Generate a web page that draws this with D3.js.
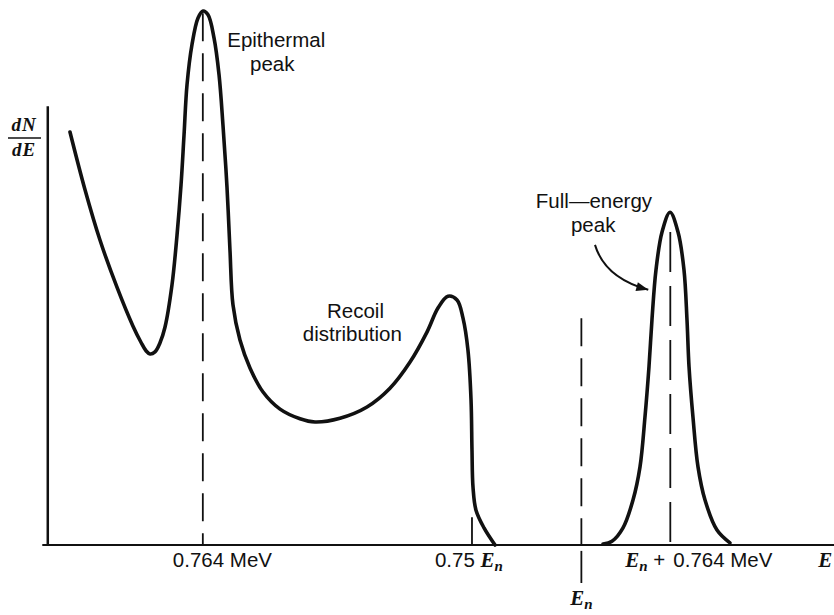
<!DOCTYPE html>
<html>
<head>
<meta charset="utf-8">
<script src="https://cdn.jsdelivr.net/npm/d3@7"></script>
<style>
  body { margin: 0; background: #fff; }
  svg text { font-family: "Liberation Sans", Arial, sans-serif; fill: #111; }
  .ital { font-family: "Liberation Serif", "Times New Roman", serif; font-style: italic; font-weight: bold; }
</style>
</head>
<body>
<div id="chart"></div>
<script>
// spectrum (arbitrary energy units 0-100, counts 0-100)
const lowEnergyE = [2.92, 4.83, 6.73, 8.89, 10.93, 11.94, 12.58, 13.09, 13.72, 14.36, 14.99, 15.88, 16.52, 17.03,
  17.41, 17.79, 18.42, 19.19, 19.82, 20.46, 21.22, 21.86, 22.36, 22.87, 23.25, 23.63, 24.52, 25.79, 27.45,
  29.61, 32.15, 34.05, 37.23, 40.66, 43.58, 46.13, 48.28, 49.68, 50.95, 52.1, 52.86, 53.49, 53.88, 54.0,
  54.13, 54.51, 55.53, 56.93];
const lowEnergyN = [77.2, 66.4, 57.0, 48.2, 40.9, 37.9, 36.3, 35.7, 36.1, 37.8, 40.7, 48.6, 57.9, 67.3,
  76.6, 86.0, 93.5, 98.5, 99.8, 99.1, 94.8, 87.9, 78.5, 66.9, 55.1, 44.9, 38.3, 33.1, 28.6,
  25.4, 23.6, 23.0, 23.7, 25.8, 29.3, 34.2, 39.8, 44.3, 46.5, 45.8, 42.4, 36.4, 27.1, 17.8,
  10.8, 6.5, 3.2, 0];
const fullPeakE = [70.65, 71.79, 73.19, 74.46, 75.35, 75.98, 76.49, 76.87, 77.38, 78.15, 79.17, 80.18, 80.94,
  81.32, 81.58, 82.08, 82.72, 83.61, 85.13, 86.78];
const fullPeakN = [0.2, 0.7, 3.2, 8.4, 14.6, 23.9, 33.3, 42.1, 51.4, 58.5, 62.2, 58.5, 51.4,
  42.1, 33.3, 23.9, 14.6, 8.4, 2.8, 0.4];

// marker lines: position, height reached, kind
const markerE = [19.8, 54.0, 67.9, 79.2];
const markerTop = [99.4, 5.2, 42.4, 58.5];
const markerKind = ["dash", "solid", "dash", "dashLong"];

const W = 834, H = 615;
const svg = d3.select("#chart").append("svg")
  .attr("width", W).attr("height", H);

const x = d3.scaleLinear().domain([0, 100]).range([47, 834]);
const y = d3.scaleLinear().domain([0, 100]).range([545, 10]);

// axes
svg.append("line")
  .attr("x1", x(-0.6)).attr("x2", x(100))
  .attr("y1", y(0)).attr("y2", y(0))
  .attr("stroke", "#111").attr("stroke-width", 2);
svg.append("line")
  .attr("x1", x(0.1)).attr("x2", x(0.1))
  .attr("y1", y(0)).attr("y2", y(82))
  .attr("stroke", "#111").attr("stroke-width", 2.5);

// marker lines
markerE.forEach((e, i) => {
  const k = markerKind[i];
  svg.append("line")
    .attr("x1", x(e)).attr("x2", x(e))
    .attr("y1", y(markerTop[i])).attr("y2", y(0))
    .attr("stroke", "#111").attr("stroke-width", 1.8)
    .attr("stroke-dasharray", k === "solid" ? null : (k === "dashLong" ? "40,14" : "28,12"));
});
// En tick below axis
svg.append("line")
  .attr("x1", x(markerE[2])).attr("x2", x(markerE[2]))
  .attr("y1", y(-1.1)).attr("y2", y(-7.1))
  .attr("stroke", "#111").attr("stroke-width", 1.8);

// curves
const line = d3.line()
  .x(d => x(d[0])).y(d => y(d[1]))
  .curve(d3.curveCatmullRom.alpha(0.5));

svg.append("path")
  .datum(d3.zip(lowEnergyE, lowEnergyN))
  .attr("d", line)
  .attr("fill", "none").attr("stroke", "#111")
  .attr("stroke-width", 3.6).attr("stroke-linecap", "round");

svg.append("path")
  .datum(d3.zip(fullPeakE, fullPeakN))
  .attr("d", line)
  .attr("fill", "none").attr("stroke", "#111")
  .attr("stroke-width", 3.6).attr("stroke-linecap", "round");

// annotations
const fs = 20.5;
function label(txt, px, py, anchor) {
  return svg.append("text").attr("x", px).attr("y", py)
    .attr("font-size", fs).attr("text-anchor", anchor || "start").text(txt);
}
label("Epithermal", x(22.9), y(93.0));
label("peak", x(25.8), y(88.6));
label("Recoil", x(39.2), y(42.5), "middle");
label("distribution", x(38.8), y(38.1), "middle");
label("Full\u2014energy", x(69.5), y(63.0), "middle");
label("peak", x(69.4), y(58.5), "middle");

// arrow to full-energy peak
const a0 = [x(69.63), y(56.1)], ac = [x(70.9), y(49.9)], a1 = [x(76.4), y(47.7)];
svg.append("path")
  .attr("d", `M${a0[0]},${a0[1]} Q${ac[0]},${ac[1]} ${a1[0]},${a1[1]}`)
  .attr("fill", "none").attr("stroke", "#111").attr("stroke-width", 2);
const ang = Math.atan2(a1[1] - ac[1], a1[0] - ac[0]);
const hl = 12, hw = 4.5;
const hp = [
  [a1[0], a1[1]],
  [a1[0] - hl * Math.cos(ang) + hw * Math.sin(ang), a1[1] - hl * Math.sin(ang) - hw * Math.cos(ang)],
  [a1[0] - hl * Math.cos(ang) - hw * Math.sin(ang), a1[1] - hl * Math.sin(ang) + hw * Math.cos(ang)]
];
svg.append("path").attr("d", "M" + hp.join("L") + "Z").attr("fill", "#111");

// axis labels
const base = y(0) + 22;
label("0.764 MeV", x(markerE[0]) - 30, base);

const t75 = svg.append("text").attr("x", x(markerE[1]) - 37).attr("y", base).attr("font-size", fs);
t75.append("tspan").text("0.75 ");
t75.append("tspan").attr("class", "ital").attr("font-size", 21).text("E");
t75.append("tspan").attr("class", "ital").attr("font-size", 15).attr("dy", 4).text("n");

const tEn = svg.append("text").attr("x", x(markerE[2])).attr("y", y(0) + 60)
  .attr("text-anchor", "middle").attr("font-size", fs);
tEn.append("tspan").attr("class", "ital").attr("font-size", 21).text("E");
tEn.append("tspan").attr("class", "ital").attr("font-size", 15).attr("dy", 4).text("n");

const tFull = svg.append("text").attr("x", x(markerE[3]) - 5).attr("y", base)
  .attr("text-anchor", "end").attr("font-size", fs);
tFull.append("tspan").attr("class", "ital").attr("font-size", 21).text("E");
tFull.append("tspan").attr("class", "ital").attr("font-size", 15).attr("dy", 4).text("n");
tFull.append("tspan").attr("dy", -4).text(" +");
label("0.764 MeV", x(markerE[3]) + 3, base);

svg.append("text").attr("class", "ital").attr("x", x(98.0)).attr("y", base)
  .attr("font-size", 21).text("E");

// y label dN/dE
const yl = svg.append("g");
yl.append("text").attr("class", "ital").attr("x", 24).attr("y", 131)
  .attr("text-anchor", "middle").attr("font-size", 19).attr("letter-spacing", 1).text("dN");
yl.append("line").attr("x1", 8).attr("x2", 41).attr("y1", 138).attr("y2", 138)
  .attr("stroke", "#111").attr("stroke-width", 1.5);
yl.append("text").attr("class", "ital").attr("x", 24).attr("y", 156)
  .attr("text-anchor", "middle").attr("font-size", 19).attr("letter-spacing", 1).text("dE");
</script>
</body>
</html>
